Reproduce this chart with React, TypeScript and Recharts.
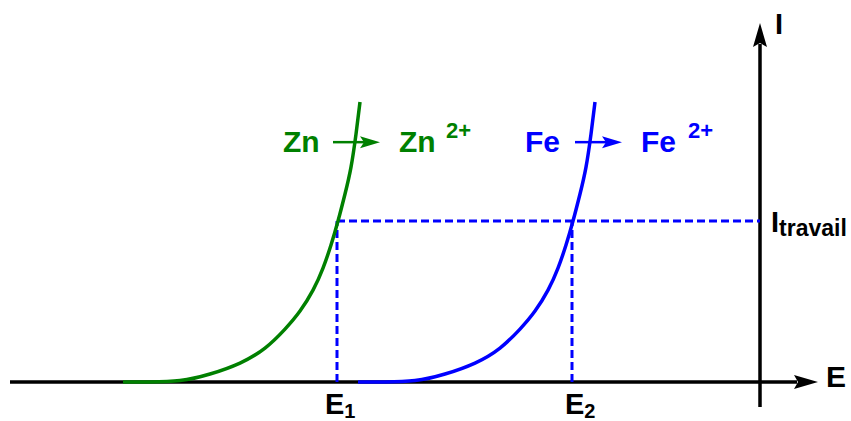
import React from "react";
import { LineChart, Line, XAxis, YAxis, ReferenceLine, ReferenceDot } from "recharts";

// potential E (arbitrary units, 0 = vertical axis) and current I (I_travail = 1)
const znE = [-6.37, -6.1, -5.8, -5.5, -5.2, -4.95, -4.75, -4.6, -4.47, -4.37, -4.29, -4.22, -4.15, -4.09, -4.04, -4.0];
const znI = [0, 0, 0.009, 0.05, 0.118, 0.211, 0.329, 0.441, 0.571, 0.708, 0.851, 1.0, 1.168, 1.335, 1.54, 1.739];
const feE = [-4.02, -3.75, -3.45, -3.15, -2.85, -2.6, -2.4, -2.25, -2.12, -2.02, -1.94, -1.87, -1.8, -1.74, -1.69, -1.65];
const feI = [0, 0, 0.009, 0.05, 0.118, 0.211, 0.329, 0.441, 0.571, 0.708, 0.851, 1.0, 1.168, 1.335, 1.54, 1.739];

const E1 = -4.23;
const E2 = -1.88;
const I_TRAVAIL = 1;

const znData = znE.map((e, i) => ({ E: e, I: znI[i] }));
const feData = feE.map((e, i) => ({ E: e, I: feI[i] }));

const GREEN = "#008000";
const BLUE = "#0000ff";
const FONT = "'Liberation Sans', Arial, sans-serif";

const arrowShape = (head: number, half: number) => (p: any) => {
  const { x1, y1, x2, y2 } = p;
  const len = Math.hypot(x2 - x1, y2 - y1) || 1;
  const ux = (x2 - x1) / len;
  const uy = (y2 - y1) / len;
  const bx = x2 - ux * head;
  const by = y2 - uy * head;
  const nx = -uy;
  const ny = ux;
  return (
    <g>
      <line x1={x1} y1={y1} x2={bx + ux * 3} y2={by + uy * 3} stroke="#000" strokeWidth={3.5} />
      <polygon
        points={`${x2},${y2} ${bx + nx * half},${by + ny * half} ${bx + ux * 4},${by + uy * 4} ${bx - nx * half},${by - ny * half}`}
        fill="#000"
      />
    </g>
  );
};

const reaction = (name: string, color: string) => (p: any) => {
  const { cx, cy } = p;
  return (
    <g fill={color} fontFamily={FONT} fontWeight="bold">
      <text x={cx - 50} y={cy + 10} fontSize={30}>{name}</text>
      <line x1={cx} y1={cy} x2={cx + 32} y2={cy} stroke={color} strokeWidth={2.5} />
      <polygon points={`${cx + 47},${cy} ${cx + 27},${cy - 6} ${cx + 31},${cy} ${cx + 27},${cy + 6}`} />
      <text x={cx + 66} y={cy + 10} fontSize={30}>{name}</text>
      <text x={cx + 113} y={cy - 4} fontSize={22}>2+</text>
    </g>
  );
};

const subLabel = (main: string, sub: string, dx: number, dy: number, size: number, subSize: number, subDy: number) =>
  (p: any) => (
    <text x={p.cx + dx} y={p.cy + dy} fontFamily={FONT} fontWeight="bold" fontSize={size} fill="#000">
      {main}
      <tspan fontSize={subSize} dy={subDy}>{sub}</tspan>
    </text>
  );

export default function App() {
  return (
    <div style={{ position: "absolute", left: 0, top: 0, background: "#fff" }}>
      <LineChart width={851} height={421} margin={{ top: 0, right: 0, bottom: 0, left: 0 }}>
        <XAxis type="number" dataKey="E" domain={[-7.6, 0.91]} allowDataOverflow hide />
        <YAxis type="number" domain={[-0.242, 2.373]} allowDataOverflow hide />

        {/* axes with arrowheads */}
        <ReferenceLine zIndex={100} segment={[{ x: -7.5, y: 0 }, { x: 0.58, y: 0 }]} shape={arrowShape(24, 7)} />
        <ReferenceLine zIndex={100} segment={[{ x: 0, y: -0.155 }, { x: 0, y: 2.23 }]} shape={arrowShape(24, 7)} />

        <ReferenceLine zIndex={100} segment={[{ x: E1, y: I_TRAVAIL }, { x: 0, y: I_TRAVAIL }]} stroke={BLUE} strokeWidth={3} strokeDasharray="8 4" />
        <ReferenceLine zIndex={100} segment={[{ x: E1, y: 0 }, { x: E1, y: I_TRAVAIL }]} stroke={BLUE} strokeWidth={3} strokeDasharray="8 4" />
        <ReferenceLine zIndex={100} segment={[{ x: E2, y: 0 }, { x: E2, y: I_TRAVAIL }]} stroke={BLUE} strokeWidth={3} strokeDasharray="8 4" />

        <Line zIndex={450} data={znData} dataKey="I" type="natural" stroke={GREEN} strokeWidth={3.5} dot={false} activeDot={false} isAnimationActive={false} />
        <Line zIndex={450} data={feData} dataKey="I" type="natural" stroke={BLUE} strokeWidth={3.5} dot={false} activeDot={false} isAnimationActive={false} />

        <ReferenceDot x={-4.27} y={1.49} r={0} shape={reaction("Zn", GREEN)} />
        <ReferenceDot x={-1.85} y={1.49} r={0} shape={reaction("Fe", BLUE)} />

        <ReferenceDot x={E1} y={0} r={0} shape={subLabel("E", "1", -12, 32, 29, 20, 4)} />
        <ReferenceDot x={E2} y={0} r={0} shape={subLabel("E", "2", -7, 32, 29, 20, 4)} />
        <ReferenceDot x={0} y={I_TRAVAIL} r={0} shape={subLabel("I", "travail", 11, 11, 29, 23, 4)} />
        <ReferenceDot x={0} y={2.16} r={0} shape={subLabel("I", "", 15, 0, 29, 20, 0)} />
        <ReferenceDot x={0.67} y={0} r={0} shape={subLabel("E", "", -1, 5, 30, 20, 0)} />
      </LineChart>
    </div>
  );
}
